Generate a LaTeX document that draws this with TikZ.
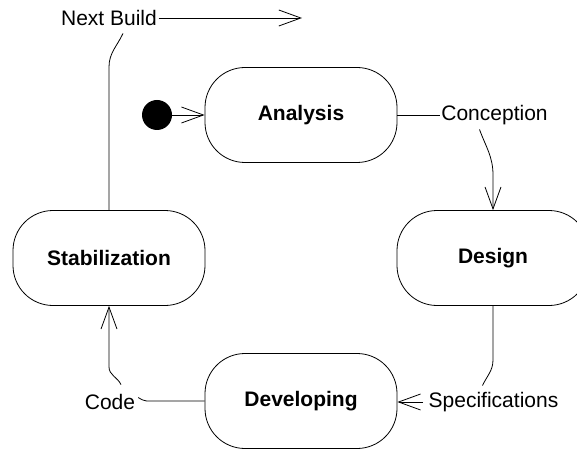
\documentclass[tikz,border=0pt]{standalone}
\usepackage{fontspec}
\setmainfont{Liberation Sans}
\usetikzlibrary{arrows.meta}
\begin{document}
\begin{tikzpicture}[x=1pt,y=1pt,
  state/.style={draw, line width=0.8pt, rectangle, rounded corners=40pt,
    minimum width=192pt, minimum height=95pt, inner sep=0pt,
    font=\fontsize{21}{25}\selectfont\bfseries},
  lbl/.style={inner sep=1.5pt, font=\fontsize{21}{25}\selectfont},
  link/.style={line width=0.8pt},
  flow/.style={link, -{Straight Barb[length=22pt,width=16pt,line width=0.8pt]}}]
\useasboundingbox (0,0) rectangle (577,450);

% activity states
\node[state] (ana) at (301,335) {Analysis};
\node[state] (des) at (493,192) {Design};
\node[state] (sta) at (109,192) {Stabilization};
\node[state] (dev) at (301,49) {Developing};

% initial state
\node[circle, fill=black, minimum size=30pt, inner sep=0pt] (init) at (157,335) {};

% transition labels
\node[lbl] (nb)   at (109,432)   {Next Build};
\node[lbl] (conc) at (494.5,335) {Conception};
\node[lbl] (code) at (110,48)    {Code};
\node[lbl] (spec) at (493.5,48)  {Specifications};
\coordinate (nbend) at (302,432);

% transitions
\draw[flow] (init) -- (ana);
\draw[link] (ana.east) -- (conc.west);
\draw[flow] ([xshift=-15pt,yshift=-3pt]conc.south) to[out=-70,in=90]
  ([yshift=35pt]des.north) -- (des.north);
\draw[link] (des.south) -- ([yshift=-54pt]des.south) to[out=-90,in=65]
  ([xshift=-11pt,yshift=5pt]spec.north);
\draw[flow] ([xshift=-4pt]spec.west) -- (spec.west -| dev.east);
\draw[link] (dev.west) -- ++(-58pt,0) to[out=180,in=-25]
  ([xshift=1.5pt,yshift=-5pt]code.north east);
\draw[flow] ([xshift=11pt,yshift=8pt]code.north) to[out=115,in=-90]
  ([yshift=-61pt]sta.south) -- (sta.south);
\draw[link] (sta.north) -- ([yshift=143pt]sta.north) to[out=90,in=-115]
  ([xshift=14pt,yshift=-6pt]nb.south);
\draw[flow] (nb.east) -- (nbend);
\end{tikzpicture}
\end{document}
